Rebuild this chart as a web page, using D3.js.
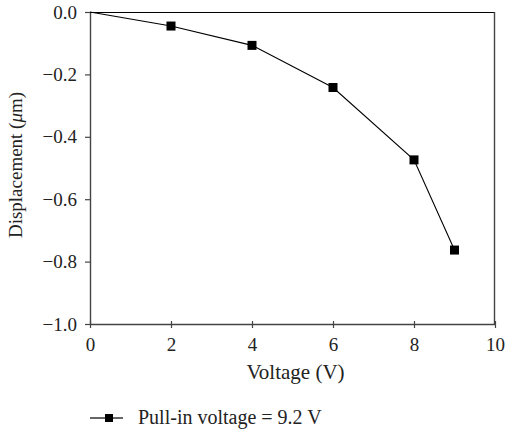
<!DOCTYPE html>
<html>
<head>
<meta charset="utf-8">
<script src="https://cdn.jsdelivr.net/npm/d3@7"></script>
<style>
  body { margin: 0; background: #fff; }
  text { font-family: "Liberation Serif", "DejaVu Serif", serif; fill: #222; }
</style>
</head>
<body>
<div id="chart"></div>
<script>
// data
const voltage = [0, 2, 4, 6, 8, 9];
const displacement = [0, -0.045, -0.107, -0.242, -0.474, -0.763];
const xTicks = [0, 2, 4, 6, 8, 10];
const yTicks = [0, -0.2, -0.4, -0.6, -0.8, -1.0];
const legendLabel = "Pull-in voltage = 9.2 V";

const W = 505, H = 432;
const margin = { top: 12, right: 10, bottom: 108, left: 90 },
    width = 495 - margin.left,
    height = 324 - margin.top;

const svg = d3.select("#chart")
    .append("svg")
    .attr("width", W)
    .attr("height", H)
    .append("g")
    .attr("transform", `translate(${margin.left},${margin.top})`);

const x = d3.scaleLinear().domain([0, 10]).range([0, width]);
const y = d3.scaleLinear().domain([-1, 0]).range([height, 0]);

// frame: top and right
svg.append("line")
    .attr("x1", 0).attr("x2", width).attr("y1", 0.5).attr("y2", 0.5)
    .attr("stroke", "#000").attr("stroke-width", 1.2);
svg.append("line")
    .attr("x1", width - 0.5).attr("x2", width - 0.5).attr("y1", 0).attr("y2", height)
    .attr("stroke", "#444").attr("stroke-width", 1.4);

// X axis
const gx = svg.append("g")
    .attr("transform", `translate(0,${height})`)
    .call(d3.axisBottom(x).tickValues(xTicks).tickSizeInner(5).tickSizeOuter(0).tickFormat(d3.format("d")));
gx.selectAll(".tick line").attr("y1", -3).attr("y2", 4);
gx.selectAll("text").attr("font-size", 19).attr("y", 27).attr("dy", null).attr("fill", "#222");

// Y axis
const gy = svg.append("g")
    .call(d3.axisLeft(y).tickValues(yTicks).tickSizeInner(5).tickSizeOuter(0)
        .tickFormat(d => d3.format(".1f")(d).replace("-", "\u2212")));
gy.selectAll("text").attr("font-size", 19).attr("x", -13).attr("fill", "#222");

[gx, gy].forEach(g => {
    g.select(".domain").attr("stroke", "#444").attr("stroke-width", 1.4);
    g.selectAll(".tick line").attr("stroke", "#444").attr("stroke-width", 1.2);
    g.attr("font-family", null);
});

// axis titles
svg.append("text")
    .attr("x", width / 2 + 3)
    .attr("y", height + 55)
    .attr("text-anchor", "middle")
    .attr("font-size", 21)
    .text("Voltage (V)");

svg.append("text")
    .attr("transform", "rotate(-90)")
    .attr("x", -height / 2 + 3)
    .attr("y", -68)
    .attr("text-anchor", "middle")
    .attr("font-size", 19)
    .html('Displacement (<tspan font-style="italic">\u03bc</tspan>m)');

// line + markers
const pts = voltage.map((v, i) => [v, displacement[i]]);
svg.append("path")
    .datum(pts)
    .attr("fill", "none")
    .attr("stroke", "#000")
    .attr("stroke-width", 1.1)
    .attr("d", d3.line().x(d => x(d[0])).y(d => y(d[1])));

svg.selectAll(".mk")
    .data(pts.slice(1))
    .join("rect")
    .attr("x", d => x(d[0]) - 4.5)
    .attr("y", d => y(d[1]) - 4.5)
    .attr("width", 9)
    .attr("height", 9)
    .attr("fill", "#000");

// legend
const lg = svg.append("g").attr("transform", `translate(0,${height + 94})`);
lg.append("line").attr("x1", 0).attr("x2", 33).attr("y1", 0).attr("y2", 0)
    .attr("stroke", "#333").attr("stroke-width", 1.3);
lg.append("rect").attr("x", 15).attr("y", -4).attr("width", 8).attr("height", 8).attr("fill", "#000");
lg.append("text").attr("x", 48).attr("y", 6).attr("font-size", 20).text(legendLabel);
</script>
</body>
</html>
